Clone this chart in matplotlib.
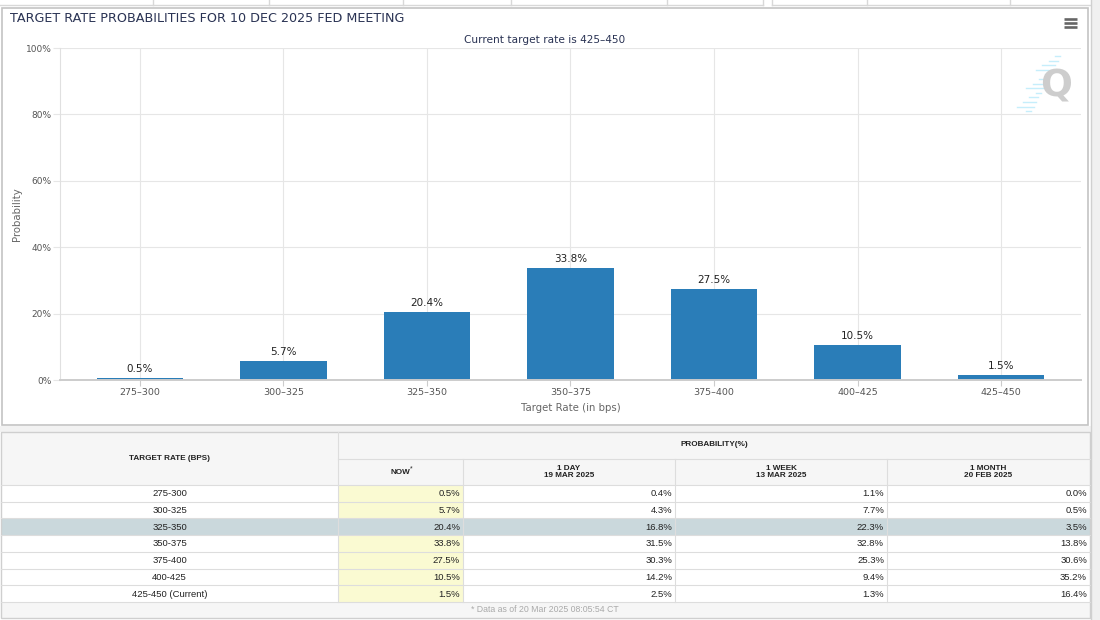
import matplotlib.pyplot as plt
from matplotlib.patches import Rectangle

# data
rates = ["275-300", "300-325", "325-350", "350-375", "375-400", "400-425", "425-450"]
now = [0.5, 5.7, 20.4, 33.8, 27.5, 10.5, 1.5]
day1 = [0.4, 4.3, 16.8, 31.5, 30.3, 14.2, 2.5]
week1 = [1.1, 7.7, 22.3, 32.8, 25.3, 9.4, 1.3]
month1 = [0.0, 0.5, 3.5, 13.8, 30.6, 35.2, 16.4]
yticks = [0, 20, 40, 60, 80, 100]
col_heads = ["1 DAY\n19 MAR 2025", "1 WEEK\n13 MAR 2025", "1 MONTH\n20 FEB 2025"]
current = "425-450"
highlight = "325-350"

W, H = 1100, 620
fig = plt.figure(figsize=(11, 6.2), dpi=100)
fig.patch.set_facecolor("white")

# full figure axes in pixel coords for panels + table
bg = fig.add_axes([0, 0, 1, 1], zorder=0)
bg.set_xlim(0, W)
bg.set_ylim(H, 0)
bg.axis("off")

# browser tab strip at the very top
bg.plot([0, 763], [5, 5], color="#d8d8d8", lw=1)
bg.plot([772, 1090], [5, 5], color="#d8d8d8", lw=1)
for xs in [153, 269, 403, 511, 667, 763, 772, 867, 1010]:
    bg.plot([xs, xs], [0, 5], color="#d8d8d8", lw=1)

# right scroll strip
bg.add_patch(Rectangle((1091, 0), 9, H, facecolor="#f0f0f0", edgecolor="none"))
bg.plot([1091, 1091], [0, H], color="#d0d0d0", lw=1)

# chart panel border
bg.add_patch(Rectangle((2, 8), 1086, 417, facecolor="white", edgecolor="#c4c4c4", lw=1.2))
bg.add_patch(Rectangle((0, 426), 1091, 6, facecolor="#f2f2f2", edgecolor="none"))

bg.text(10, 19, "TARGET RATE PROBABILITIES FOR 10 DEC 2025 FED MEETING",
        fontsize=9.2, color="#2a3354", va="center", ha="left")
bg.text(545, 40, "Current target rate is " + current.replace("-", "\u2013"),
        fontsize=7.6, color="#2a3354", va="center", ha="center")

# hamburger menu
for yy in [18.5, 22.5, 26.5]:
    bg.plot([1064, 1077], [yy, yy], color="#666666", lw=1.9, solid_capstyle="butt")

# watermark Q with little cyan streaks
for i in range(13):
    yy = 56 + i * 4.6
    x1 = 1060 - i * 2.4
    bg.plot([x1 - 5 - (i % 4) * 4, x1], [yy, yy], color="#c6eefb", lw=1.0)
bg.text(1056, 86, "Q", fontsize=27, fontweight="bold", color="#cdcdcd",
        ha="center", va="center")

bg.text(17, 214, "Probability", rotation=90, fontsize=7.3, color="#666666",
        ha="center", va="center")
bg.text(571, 408, "Target Rate (in bps)", fontsize=7.3, color="#666666",
        ha="center", va="center")

# bar chart
ax = fig.add_axes([60 / W, (H - 380) / H, (1081 - 60) / W, (380 - 48) / H], zorder=1)
ax.set_facecolor("none")
x = list(range(len(rates)))
bars = ax.bar(x, now, width=0.6, color="#2a7db8", zorder=3)
ax.bar_label(bars, labels=[f"{v:.1f}%" for v in now], padding=3,
             fontsize=7.5, color="#222222")
ax.set_xlim(-0.557, len(rates) - 1 + 0.557)
ax.set_ylim(0, 100)
ax.set_xticks(x)
ax.set_xticklabels([r.replace("-", "\u2013") for r in rates], fontsize=6.8, color="#555555")
ax.set_yticks(yticks)
ax.set_yticklabels([f"{t}%" for t in yticks], fontsize=6.5, color="#555555")
ax.grid(True, color="#e6e6e6", lw=0.8, zorder=0)
ax.tick_params(axis="y", length=5, color="#e6e6e6", pad=1)
ax.tick_params(axis="x", length=4, color="#cccccc", pad=1.5)
for s in ["top", "right"]:
    ax.spines[s].set_visible(False)
ax.spines["left"].set_color("#e0e0e0")
ax.spines["bottom"].set_color("#cccccc")
ax.spines["bottom"].set_linewidth(1.4)
ax.spines["bottom"].set_zorder(4)

# table
tf = "Liberation Sans"
cols = [1, 338, 463, 675, 887, 1090]
top, mid, hbot = 432, 459, 485
rh = 16.7
border = "#dddddd"
hdr_bg = "#f6f6f6"

bg.add_patch(Rectangle((cols[0], top), cols[-1] - cols[0], hbot - top,
                       facecolor=hdr_bg, edgecolor="none"))
bg.plot([cols[1], cols[-1]], [mid, mid], color=border, lw=0.8)
for cx in cols[1:-1]:
    y0 = top if cx == cols[1] else mid
    bg.plot([cx, cx], [y0, hbot + rh * len(rates)], color=border, lw=0.8)
bg.text((cols[0] + cols[1]) / 2, 458, "TARGET RATE (BPS)", fontsize=5.9,
        fontweight="bold", family=tf, ha="center", va="center", color="#222222")
bg.text((cols[1] + cols[-1]) / 2, 445, "PROBABILITY(%)", fontsize=5.9,
        fontweight="bold", family=tf, ha="center", va="center", color="#222222")
bg.text((cols[1] + cols[2]) / 2, 472, "NOW", fontsize=5.9, fontweight="bold",
        family=tf, ha="center", va="center", color="#222222")
bg.text((cols[1] + cols[2]) / 2 + 11, 469, "*", fontsize=5, family=tf,
        ha="center", va="center", color="#222222")
for j, head in enumerate(col_heads):
    bg.text((cols[j + 2] + cols[j + 3]) / 2, 472, head, fontsize=5.9,
            fontweight="bold", family=tf, ha="center", va="center",
            color="#222222", linespacing=1.15)

series = [now, day1, week1, month1]
for i, r in enumerate(rates):
    y0 = hbot + i * rh
    if r == highlight:
        bg.add_patch(Rectangle((cols[0], y0), cols[-1] - cols[0], rh,
                               facecolor="#cad8dc", edgecolor="none"))
    else:
        bg.add_patch(Rectangle((cols[1], y0), cols[2] - cols[1], rh,
                               facecolor="#fafad2", edgecolor="none"))
    bg.plot([cols[0], cols[-1]], [y0, y0], color=border, lw=0.8)
    name = r + " (Current)" if r == current else r
    bg.text((cols[0] + cols[1]) / 2, y0 + rh / 2 + 0.5, name, fontsize=6.8,
            family=tf, ha="center", va="center", color="#222222")
    for j, s in enumerate(series):
        bg.text(cols[j + 2] - 3, y0 + rh / 2 + 0.5, f"{s[i]:.1f}%", fontsize=6.8,
                family=tf, ha="right", va="center", color="#222222")

fy = hbot + rh * len(rates)
bg.plot([cols[0], cols[-1]], [fy, fy], color=border, lw=0.8)
bg.add_patch(Rectangle((cols[0], fy), cols[-1] - cols[0], 618 - fy,
                       facecolor=hdr_bg, edgecolor="none"))
bg.text(545, 609.5, "* Data as of 20 Mar 2025 08:05:54 CT", fontsize=6.3,
        family=tf, ha="center", va="center", color="#aaaaaa")
bg.add_patch(Rectangle((cols[0], top), cols[-1] - cols[0], 618 - top,
                       facecolor="none", edgecolor="#cfcfcf", lw=1))

fig.savefig("out.png", dpi=100)
